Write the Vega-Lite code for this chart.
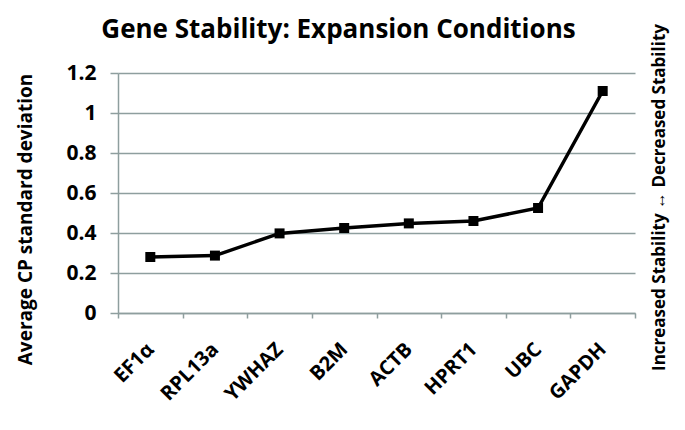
{
  "$schema": "https://vega.github.io/schema/vega-lite/v6.json",
  "width": 517,
  "height": 240,
  "autosize": {"type": "none"},
  "padding": {"left": 118, "top": 73, "right": 50, "bottom": 117},
  "config": {
    "font": "Open Sans",
    "view": {"stroke": null}
  },
  "title": {
    "text": "Gene Stability: Expansion Conditions",
    "fontSize": 26,
    "fontWeight": "bold",
    "font": "Open Sans",
    "color": "#000000",
    "anchor": "middle",
    "frame": "group",
    "offset": 0,
    "dy": 28,
    "dx": -38
  },
  "data": {
    "values": [
      {"gene": "EF1α", "sd": 0.28},
      {"gene": "RPL13a", "sd": 0.287},
      {"gene": "YWHAZ", "sd": 0.398},
      {"gene": "B2M", "sd": 0.425},
      {"gene": "ACTB", "sd": 0.448},
      {"gene": "HPRT1", "sd": 0.46},
      {"gene": "UBC", "sd": 0.525},
      {"gene": "GAPDH", "sd": 1.11}
    ]
  },
  "encoding": {
    "x": {
      "field": "gene",
      "type": "nominal",
      "sort": null,
      "scale": {"paddingInner": 0, "paddingOuter": 0},
      "axis": {
        "title": null,
        "labelAngle": -45,
        "labelAlign": "right",
        "labelBaseline": "middle",
        "labelFont": "Open Sans",
        "labelFontSize": 20,
        "labelFontWeight": "bold",
        "labelColor": "#000000",
        "labelPadding": 28,
        "tickBand": "extent",
        "tickSize": 5,
        "tickColor": "#8e9e9e",
        "tickWidth": 1.5,
        "domainColor": "#8e9e9e",
        "domainWidth": 1.5,
        "grid": false
      }
    }
  },
  "layer": [
    {
      "mark": {
        "type": "line",
        "color": "#000000",
        "strokeWidth": 3.5,
        "point": {"shape": "square", "filled": true, "color": "#000000", "size": 100, "opacity": 1}
      },
      "encoding": {
        "y": {
          "field": "sd",
          "type": "quantitative",
          "scale": {"domain": [0, 1.2]},
          "axis": {
            "title": "Average CP standard deviation",
            "titleFont": "Open Sans",
            "titleFontSize": 19,
            "titleFontWeight": "bold",
            "titleColor": "#000000",
            "titlePadding": 30,
            "titleY": 146,
            "values": [0, 0.2, 0.4, 0.6, 0.8, 1, 1.2],
            "format": "~g",
            "labelFont": "Open Sans",
            "labelFontSize": 21,
            "labelFontWeight": "bold",
            "labelColor": "#000000",
            "labelPadding": 14,
            "tickSize": 8,
            "tickColor": "#8e9e9e",
            "tickWidth": 1.5,
            "domainColor": "#8e9e9e",
            "domainWidth": 1.5,
            "grid": true,
            "gridColor": "#8e9e9e",
            "gridWidth": 1.5
          }
        }
      }
    },
    {
      "mark": {"type": "point", "opacity": 0},
      "encoding": {
        "y": {
          "field": "sd",
          "type": "quantitative",
          "axis": {
            "orient": "right",
            "title": "Increased Stability   ↔   Decreased Stability",
            "titleAngle": 270,
            "titleFont": "Open Sans",
            "titleFontSize": 17,
            "titleFontWeight": "bold",
            "titleColor": "#000000",
            "titlePadding": 33,
            "titleY": 124,
            "labels": false,
            "ticks": false,
            "domain": false,
            "grid": false
          }
        }
      }
    }
  ],
  "resolve": {"axis": {"y": "independent"}}
}
